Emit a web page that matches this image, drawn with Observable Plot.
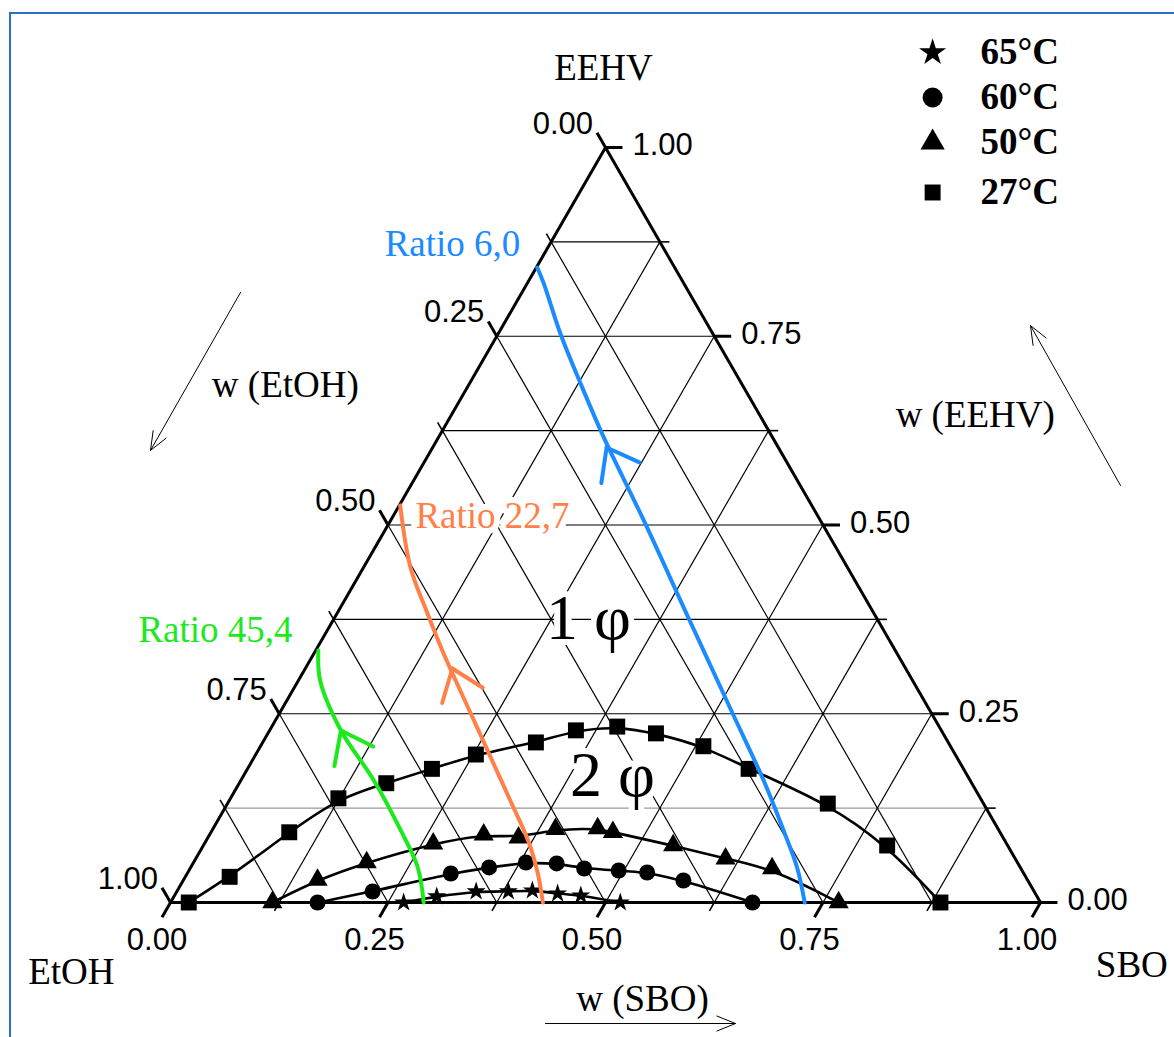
<!DOCTYPE html>
<html><head><meta charset="utf-8">
<script src="https://cdn.jsdelivr.net/npm/d3@7"></script>
<script src="https://cdn.jsdelivr.net/npm/@observablehq/plot@0.6"></script>
<style>
body{margin:0;background:#fff;}
#wrap{position:relative;width:1174px;height:1037px;overflow:hidden;background:#fff;}
#wrap svg{position:absolute;left:0;top:0;}
#border{position:absolute;left:9px;top:12px;width:1200px;height:1100px;border-top:2px solid #2e6fc4;border-left:2px solid #2e6fc4;pointer-events:none;}
</style></head><body><div id="wrap"><div id="border"></div></div>
<script>
// ---- Data (mass fractions; EtOH = 1 - SBO - EEHV) ----
const temps = ["65°C", "60°C", "50°C", "27°C"];
const symbols = ["star", "circle", "triangle", "square"];

const sbo65 = [0.268, 0.302, 0.344, 0.381, 0.408, 0.439, 0.467, 0.517];
const eehv65 = [0, 0.008, 0.0146, 0.0146, 0.0159, 0.0119, 0.0093, 0];

const sbo60 = [0.169, 0.225, 0.303, 0.343, 0.382, 0.418, 0.453, 0.494, 0.528, 0.575, 0.669];
const eehv60 = [0, 0.0146, 0.0384, 0.0464, 0.053, 0.0517, 0.045, 0.0424, 0.0397, 0.0291, 0];

const sbo50 = [0.117, 0.154, 0.199, 0.263, 0.315, 0.357, 0.394, 0.442, 0.462, 0.540, 0.609, 0.669, 0.768];
const eehv50 = [0, 0.030, 0.053, 0.078, 0.090, 0.086, 0.097, 0.098, 0.093, 0.0755, 0.058, 0.045, 0];

const sbo27 = [0.021, 0.051, 0.090, 0.124, 0.169, 0.212, 0.253, 0.314, 0.352, 0.397, 0.446, 0.509, 0.576, 0.690, 0.786, 0.885];
const eehv27 = [0, 0.034, 0.093, 0.138, 0.158, 0.177, 0.196, 0.212, 0.228, 0.233, 0.224, 0.207, 0.177, 0.131, 0.0755, 0];

// Ratio (dilution) paths
const ratioLabels = ["Ratio 6,0", "Ratio 22,7", "Ratio 45,4"];
const ratioColors = ["#1c8bff", "#ff8048", "#1ee81e"];
const blueSbo = [0.001, 0.019, 0.071, 0.128, 0.190, 0.291, 0.410, 0.521, 0.601, 0.657, 0.697, 0.729];
const blueEehv = [0.841, 0.820, 0.754, 0.687, 0.616, 0.506, 0.3735, 0.2503, 0.1616, 0.0954, 0.0464, 0];
const orangeSbo = [0.001, 0.054, 0.104, 0.149, 0.220, 0.323, 0.370, 0.403, 0.428];
const orangeEehv = [0.526, 0.4437, 0.3828, 0.3298, 0.2503, 0.1351, 0.0821, 0.0384, 0];
const greenSbo = [0.003, 0.025, 0.082, 0.153, 0.217, 0.261, 0.291];
const greenEehv = [0.3338, 0.294, 0.2278, 0.1616, 0.0954, 0.0464, 0];
// arrow heads along each path: [sbo, eehv] tip and a point behind it (direction)
const arrowTip = [[0.200, 0.6026], [0.169, 0.310], [0.082, 0.2278]];
const arrowBack = [[0.245, 0.5563], [0.210, 0.2603], [0.126, 0.1807]];

// Axes
const ticks = [0, 0.25, 0.5, 0.75, 1];
const tickLabels = ["0.00", "0.25", "0.50", "0.75", "1.00"];
const minorTicks = [0.125, 0.375, 0.625, 0.875];
const gridSteps = [0.125, 0.25, 0.375, 0.5, 0.625, 0.75, 0.875];

// ---- scales & ternary helpers (x = SBO + EEHV/2, y = EEHV) ----
const xRange = [170, 1040], yRange = [902, 147];
const T = (s, e) => ({x: s + e / 2, y: e});
const seg = (a, b, extra = {}) => ({x1: a.x, y1: a.y, x2: b.x, y2: b.y, ...extra});
const pts = (S, E) => S.map((s, i) => T(s, E[i]));
const kx = xRange[1] - xRange[0], ky = yRange[0] - yRange[1];

const grid = [];
for (const g of gridSteps) {
  grid.push(seg(T(0, g), T(1 - g, g), {c: g === 0.125 ? "#9a9a9a" : "#000"}));
  grid.push(seg(T(g, 0), T(g, 1 - g), {c: "#000"}));
  grid.push(seg(T(1 - g, 0), T(0, 1 - g), {c: "#000"}));
}
const edges = [T(0, 0), T(1, 0), T(0, 1), T(0, 0)];
const d = 0.0195, dm = 0.011;
const tickBottom = ticks.map((t, i) => seg(T(t, 0), T(t, -d), {label: tickLabels[i]}));
const tickLeft = ticks.map((t, i) => seg(T(0, 1 - t), T(-d, 1 - t + d), {label: tickLabels[i]}));
const tickRight = ticks.map((t, i) => seg(T(1 - t, t), T(1 - t + d, t), {label: tickLabels[i]}));
const minor = [];
for (const t of minorTicks) {
  minor.push(seg(T(t, 0), T(t, -dm)));
  minor.push(seg(T(0, 1 - t), T(-dm, 1 - t + dm)));
  minor.push(seg(T(1 - t, t), T(1 - t + dm, t)));
}

const series = [
  {label: temps[0], symbol: symbols[0], p: pts(sbo65, eehv65), r: 6, lr: 8.5},
  {label: temps[1], symbol: symbols[1], p: pts(sbo60, eehv60), r: 8, lr: 10},
  {label: temps[2], symbol: symbols[2], p: pts(sbo50, eehv50), r: 7.5, lr: 9},
  {label: temps[3], symbol: symbols[3], p: pts(sbo27, eehv27), r: 9, lr: 9}
];
const ratios = [
  pts(blueSbo, blueEehv), pts(orangeSbo, orangeEehv), pts(greenSbo, greenEehv)
];
// open arrowhead barbs (36 px, ±37°) built in screen space, mapped back to plot units
function barbs(tip, back, len = 36, ang = 37) {
  const a = T(...tip), b = T(...back);
  let ux = (b.x - a.x) * kx, uy = -(b.y - a.y) * ky;
  const n = Math.hypot(ux, uy); ux /= n; uy /= n;
  return [-1, 1].map((sg) => {
    const r = sg * ang * Math.PI / 180;
    const vx = ux * Math.cos(r) - uy * Math.sin(r), vy = ux * Math.sin(r) + uy * Math.cos(r);
    return {x1: a.x, y1: a.y, x2: a.x + vx * len / kx, y2: a.y - vy * len / ky};
  });
}

// annotation anchor positions in plot units
const legendX = 0.876, legendTextX = 0.931;
const legendY = [1.1258, 1.0662, 1.0066, 0.9404];
const serif = "Liberation Serif, Times New Roman, serif";
const sans = "Liberation Sans, Arial, sans-serif";

const cornerLabels = [
  {text: "EEHV", x: 0.4977, y: 1.105},
  {text: "EtOH", x: -0.114, y: -0.092},
  {text: "SBO", x: 1.105, y: -0.083},
  {text: "w (EtOH)", x: 0.132, y: 0.685},
  {text: "w (EEHV)", x: 0.925, y: 0.645},
  {text: "w (SBO)", x: 0.5425, y: -0.128}
];
const guideArrows = [
  {x1: 0.0805, y1: 0.808, x2: -0.023, y2: 0.5987},
  {x1: 1.092, y1: 0.5523, x2: 0.9885, y2: 0.7642},
  {x1: 0.431, y1: -0.1603, x2: 0.6494, y2: -0.1603}
];
const ratioText = [
  {text: ratioLabels[0], x: 0.3241, y: 0.872, c: ratioColors[0]},
  {text: ratioLabels[1], x: 0.3701, y: 0.5113, c: ratioColors[1]},
  {text: ratioLabels[2], x: 0.0517, y: 0.3603, c: ratioColors[2]}
];
const phaseText = [
  {text: "1 φ", x: 0.4805, y: 0.376},
  {text: "2 φ", x: 0.508, y: 0.168}
];

const marks = [
  Plot.link(grid, {x1: "x1", y1: "y1", x2: "x2", y2: "y2", stroke: "c", strokeWidth: 1.2}),
  // white halos behind in-plot labels
  Plot.text(ratioText, {x: "x", y: "y", text: "text", fontFamily: serif, fontSize: 37, fill: "white", stroke: "white", strokeWidth: 12}),
  Plot.text(phaseText, {x: "x", y: "y", text: "text", fontFamily: serif, fontSize: 64, fill: "white", stroke: "white", strokeWidth: 12}),
  Plot.line(edges, {x: "x", y: "y", stroke: "#000", strokeWidth: 3}),
  Plot.link(minor, {x1: "x1", y1: "y1", x2: "x2", y2: "y2", stroke: "#000", strokeWidth: 1.6}),
  Plot.link(tickBottom, {x1: "x1", y1: "y1", x2: "x2", y2: "y2", stroke: "#000", strokeWidth: 3}),
  Plot.link(tickLeft, {x1: "x1", y1: "y1", x2: "x2", y2: "y2", stroke: "#000", strokeWidth: 3}),
  Plot.link(tickRight, {x1: "x1", y1: "y1", x2: "x2", y2: "y2", stroke: "#000", strokeWidth: 3}),
  Plot.text(tickBottom, {x: "x2", y: "y2", text: "label", fontFamily: sans, fontSize: 31, dx: -5, dy: 23, textAnchor: "middle", fill: "#000"}),
  Plot.text(tickLeft, {x: "x2", y: "y2", text: "label", fontFamily: sans, fontSize: 31, dx: -4, dy: -9, textAnchor: "end", fill: "#000"}),
  Plot.text(tickRight, {x: "x2", y: "y2", text: "label", fontFamily: sans, fontSize: 31, dx: 10, dy: -2, textAnchor: "start", fill: "#000"})
];
for (const s of series) {
  marks.push(Plot.line(s.p, {x: "x", y: "y", stroke: "#000", strokeWidth: 2.6, curve: "basis"}));
}
for (const s of series) {
  marks.push(Plot.dot(s.p, {x: "x", y: "y", symbol: () => s.symbol, r: s.r, fill: "#000", stroke: "none"}));
}
ratios.forEach((p, i) => {
  marks.push(Plot.line(p, {x: "x", y: "y", stroke: ratioColors[i], strokeWidth: 4, curve: "catmull-rom"}));
  marks.push(Plot.link(barbs(arrowTip[i], arrowBack[i]), {x1: "x1", y1: "y1", x2: "x2", y2: "y2", stroke: ratioColors[i], strokeWidth: 4, strokeLinecap: "round"}));
});
marks.push(
  Plot.arrow(guideArrows, {x1: "x1", y1: "y1", x2: "x2", y2: "y2", stroke: "#000", strokeWidth: 1, headLength: 30, headAngle: 44}),
  Plot.text(cornerLabels, {x: "x", y: "y", text: "text", fontFamily: serif, fontSize: 37, fill: "#000"}),
  Plot.text(ratioText, {x: "x", y: "y", text: "text", fontFamily: serif, fontSize: 37, fill: "c"}),
  Plot.text(phaseText, {x: "x", y: "y", text: "text", fontFamily: serif, fontSize: 64, fill: "#000"})
);
// legend
series.forEach((s, i) => {
  marks.push(Plot.dot([{x: legendX, y: legendY[i]}], {x: "x", y: "y", symbol: () => s.symbol, r: s.lr, fill: "#000", stroke: "none"}));
  marks.push(Plot.text([{x: legendTextX, y: legendY[i], t: s.label}], {x: "x", y: "y", text: "t", fontFamily: serif, fontWeight: "bold", fontSize: 37, textAnchor: "start", fill: "#000"}));
});

const chart = Plot.plot({
  width: 1174, height: 1037, margin: 0,
  x: {domain: [0, 1], range: xRange, axis: null},
  y: {domain: [0, 1], range: yRange, axis: null},
  style: {background: "transparent", overflow: "visible"},
  marks
});
document.getElementById("wrap").prepend(chart);
</script></body></html>
